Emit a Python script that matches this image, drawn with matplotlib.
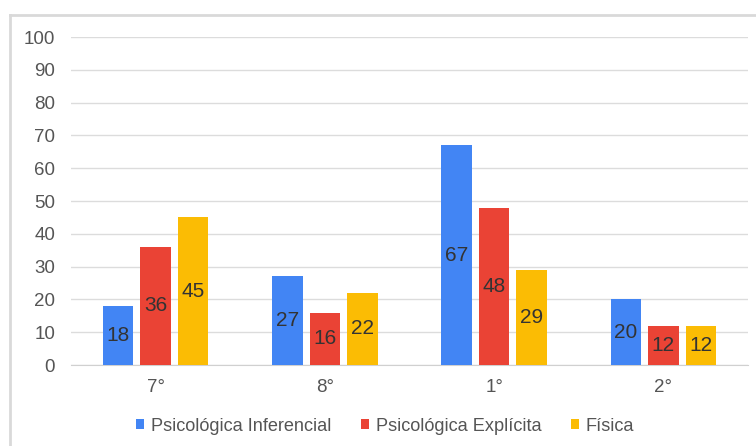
import numpy as np
import matplotlib.pyplot as plt
from matplotlib.lines import Line2D

plt.rcParams['font.family'] = ['Liberation Sans', 'DejaVu Sans']

grados = ['7°', '8°', '1°', '2°']
series = ['Psicológica Inferencial', 'Psicológica Explícita', 'Física']
inferencial = [18, 27, 67, 20]
explicita = [36, 16, 48, 12]
fisica = [45, 22, 29, 12]
yticks = list(range(0, 101, 10))

colores = ['#4285F4', '#EA4335', '#FBBC04']

fig = plt.figure(figsize=(7.56, 4.46), dpi=100)
ax = fig.add_axes([0.094, 0.1816, 0.8954, 0.7354])

x = np.arange(len(grados))
paso = 0.222
ancho = 0.18
for i, (nombre, vals) in enumerate(zip(series, [inferencial, explicita, fisica])):
    barras = ax.bar(x + (i - 1) * paso, vals, ancho, color=colores[i], label=nombre, zorder=3)
    ax.bar_label(barras, labels=[str(v) for v in vals], label_type='center',
                 fontsize=15, color='#333333', zorder=4)

ax.set_xlim(-0.5, len(grados) - 0.5)
ax.set_ylim(0, 100)
ax.set_yticks(yticks)
ax.set_xticks(x)
ax.set_xticklabels(grados)
ax.grid(axis='y', color='#dcdcdc', linewidth=1, zorder=0)
ax.tick_params(axis='both', length=0, labelsize=13.5, labelcolor='#555555')
ax.tick_params(axis='y', pad=11.5)
ax.tick_params(axis='x', pad=10)
for lado in ['top', 'right', 'left']:
    ax.spines[lado].set_visible(False)
ax.spines['bottom'].set_color('#d0d0d0')

ax.legend(loc='center', bbox_to_anchor=(0.464, -0.186), ncol=3, frameon=False,
          fontsize=13.1, labelcolor='#555555', handlelength=0.44, handleheight=0.44,
          handletextpad=0.39, columnspacing=1.6, borderaxespad=0, borderpad=0)

# marco gris del gráfico
fig.add_artist(Line2D([10 / 756, 10 / 756], [0, 1 - 15 / 446], transform=fig.transFigure,
                      color='#d9d9d9', linewidth=2))
fig.add_artist(Line2D([10 / 756, 1], [1 - 15 / 446, 1 - 15 / 446], transform=fig.transFigure,
                      color='#d9d9d9', linewidth=2))

fig.savefig('out.png', dpi=100)
